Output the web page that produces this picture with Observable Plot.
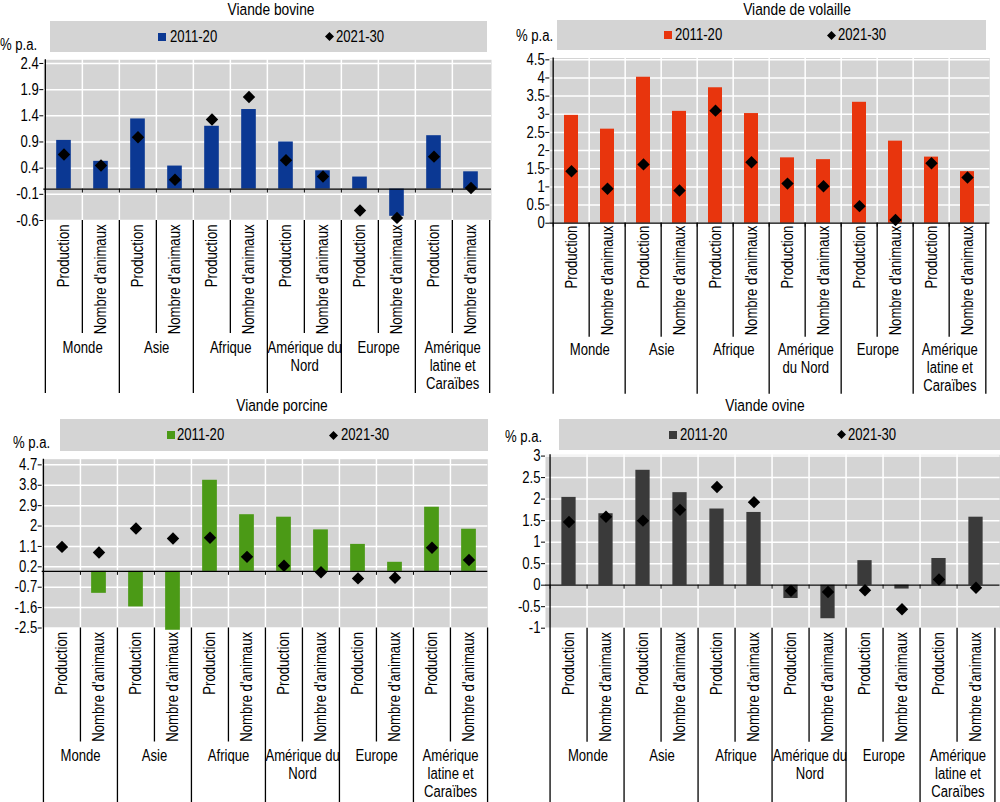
<!DOCTYPE html>
<html><head><meta charset="utf-8">
<script src="https://cdn.jsdelivr.net/npm/d3@7"></script>
<script src="https://cdn.jsdelivr.net/npm/@observablehq/plot@0.6"></script>
<style>
body{margin:0;background:#fff;}
#root{position:relative;width:1000px;height:802px;overflow:hidden;background:#fff;}
.abs{position:absolute;white-space:nowrap;color:#000;}
.plot{position:absolute;}
</style></head><body><div id="root"></div>
<script>
// ---------- DATA ----------
const groups = ["Monde","Asie","Afrique","Amérique du Nord","Europe","Amérique latine et Caraïbes"];
const measures = ["Production","Nombre d'animaux"];
const seriesNames = ["2011-20","2021-30"];
const panelTitles = ["Viande bovine","Viande de volaille","Viande porcine","Viande ovine"];
const unitLabel = "% p.a.";
const groupLabelsA = ["Monde","Asie","Afrique","Amérique du\nNord","Europe","Amérique\nlatine et\nCaraïbes"];
const groupLabelsB = ["Monde","Asie","Afrique","Amérique\ndu Nord","Europe","Amérique\nlatine et\nCaraïbes"];

const bovine2011 = [0.93,0.53,1.34,0.44,1.20,1.52,0.90,0.35,0.23,-0.52,1.02,0.33];
const bovine2021 = [0.66,0.45,0.99,0.18,1.33,1.76,0.55,0.24,-0.41,-0.55,0.62,0.02];
const poultry2011 = [2.97,2.59,4.02,3.08,3.73,3.02,1.80,1.75,3.33,2.26,1.82,1.42];
const poultry2021 = [1.43,0.95,1.62,0.90,3.10,1.68,1.09,1.02,0.47,0.09,1.65,1.26];
const pork2011 = [0,-0.97,-1.57,-2.6,4.02,2.50,2.39,1.83,1.19,0.40,2.83,1.86];
const pork2021 = [1.08,0.83,1.89,1.45,1.48,0.64,0.25,-0.04,-0.31,-0.28,1.04,0.50];
const sheep2011 = [2.04,1.66,2.67,2.15,1.77,1.69,-0.31,-0.78,0.57,-0.09,0.62,1.58];
const sheep2021 = [1.47,1.59,1.50,1.75,2.28,1.93,-0.13,-0.16,-0.12,-0.56,0.13,-0.06];

const bovineTicks = [-0.6,-0.1,0.4,0.9,1.4,1.9,2.4];
const poultryTicks = [0,0.5,1,1.5,2,2.5,3,3.5,4,4.5];
const porkTicks = [-2.5,-1.6,-0.7,0.2,1.1,2,2.9,3.8,4.7];
const sheepTicks = [-1,-0.5,0,0.5,1,1.5,2,2.5,3];

// ---------- FONTS ----------
function hasFont(name){
  const c=document.createElement("canvas").getContext("2d");
  const s="Nombre d'animaux 2011-20 Wwm";
  c.font="16px monospace"; const a=c.measureText(s).width;
  c.font=`16px '${name}', monospace`; const b=c.measureText(s).width;
  return Math.abs(a-b)>0.5;
}
const narrow = hasFont("Liberation Sans Narrow");
const FF = narrow ? "'Liberation Sans Narrow','Arial Narrow',sans-serif" : "'Liberation Sans',Arial,sans-serif";
const FS = 16;
const SX = narrow ? 1 : 0.82;   // horizontal condensation to mimic a narrow face

const root = document.getElementById("root");
function addText(txt, left, cy, opts={}){
  const d=document.createElement("div");
  d.className="abs";
  d.textContent=txt;
  const lh=opts.lh||20;
  const top = opts.top!=null ? opts.top : cy-lh/2;
  d.style.cssText+=`font-family:${FF};font-size:${opts.size||FS}px;line-height:${lh}px;top:${top}px;`;
  if(opts.center!=null){
    d.style.left=(opts.center-300)+"px"; d.style.width="600px"; d.style.textAlign="center";
    d.style.transform=`scaleX(${SX})`; d.style.transformOrigin="50% 50%";
  } else {
    d.style.left=left+"px";
    d.style.transform=`scaleX(${SX})`; d.style.transformOrigin="0 50%";
  }
  root.appendChild(d);
  return d;
}
function addBox(l,t,w,h,color){
  const d=document.createElement("div");
  d.className="abs";
  d.style.cssText+=`left:${l}px;top:${t}px;width:${w}px;height:${h}px;background:${color};`;
  root.appendChild(d);
}
function addDiamond(cx,cy,s){
  const d=document.createElementNS("http://www.w3.org/2000/svg","svg");
  d.setAttribute("width",s*2);d.setAttribute("height",s*2);
  d.style.cssText=`position:absolute;left:${cx-s}px;top:${cy-s}px;`;
  d.innerHTML=`<path d="M${s},0L${2*s},${s}L${s},${2*s}L0,${s}Z" fill="#000"/>`;
  root.appendChild(d);
}

function condense(svg){
  if (SX === 1) return;
  svg.querySelectorAll("text").forEach(t=>{
    let tr = t.getAttribute("transform") || "";
    const x = t.getAttribute("x"), y = t.getAttribute("y");
    if ((x && !isNaN(+x)) || (y && !isNaN(+y))) {
      tr = `translate(${+x||0},${+y||0}) ` + tr;
      t.removeAttribute("x"); t.removeAttribute("y");
    }
    t.setAttribute("transform", (tr + ` scale(${SX},1)`).trim());
  });
}

function panel(cfg){
  const keys = groups.flatMap(g=>measures.map(m=>g+"|"+m));
  const rows = keys.map((k,i)=>({key:k, group:groups[i>>1], measure:measures[i%2], v1:cfg.s1[i], v2:cfg.s2[i]}));
  const plotW = cfg.width - cfg.ml - cfg.mr;
  const plotH = cfg.height - cfg.mt - cfg.mb;
  const bw = plotW/keys.length;
  const firstKeys = keys.filter((k,i)=>i%2===0);
  const secondKeys = keys.filter((k,i)=>i%2===1);
  const last = keys[keys.length-1];
  const p = Plot.plot({
    width: cfg.width, height: cfg.height,
    marginLeft: cfg.ml, marginRight: cfg.mr, marginTop: cfg.mt, marginBottom: cfg.mb,
    x: {type:"band", domain: keys, padding: 0, axis: null},
    y: {domain: cfg.domain},
    style: {fontFamily: FF, fontSize: FS+"px", background: "transparent", overflow: "visible", color: "#000"},
    marks: [
      Plot.frame({fill:"#d4d4d4", stroke:null}),
      Plot.ruleY(cfg.ticks, {stroke:"#fff", strokeWidth:1.5}),
      Plot.ruleX(keys.slice(1), {x:d=>d, dx:-bw/2, stroke:"#fff", strokeWidth:1.5}),
      Plot.barY(rows, {x:"key", y:"v1", fill: cfg.color, insetLeft: bw*0.3, insetRight: bw*0.3}),
      Plot.ruleY([0], {stroke:"#000", strokeWidth:1.2}),
      Plot.ruleX(keys, {x:d=>d, dx:-bw/2, y1:()=>0, y2:()=>0, insetBottom:-4, stroke:"#000"}),
      Plot.dot(rows, {x:"key", y:"v2", symbol:"diamond2", r:5.6, fill:"#000", stroke:null}),
      Plot.ruleX([keys[0]], {x:d=>d, dx:-bw/2, stroke:"#000", strokeWidth:1.3, insetBottom:-cfg.longLen}),
      Plot.axisY({ticks: cfg.ticks, tickSize: 4, tickPadding: 1, fontSize: FS, tickFormat: d=>String(d), stroke:"#000"}),
      Plot.ruleX(secondKeys, {x:d=>d, dx:-bw/2, insetTop: plotH, insetBottom:-cfg.shortLen, stroke:"#000", strokeWidth:1.3}),
      Plot.ruleX(firstKeys.slice(1), {x:d=>d, dx:-bw/2, insetTop: plotH, insetBottom:-cfg.longLen, stroke:"#000", strokeWidth:1.3}),
      Plot.ruleX([last], {x:d=>d, dx:bw/2, insetTop: plotH, insetBottom:-cfg.longLen, stroke:"#000", strokeWidth:1.3}),
      Plot.text(rows, {x:"key", text:"measure", frameAnchor:"bottom", rotate:-90, textAnchor:"end", lineAnchor:"middle", dy: cfg.rotDy, fontSize: FS, fill:"#000"}),
      Plot.text(rows.filter((d,i)=>i%2===0), {x:"key", text:(d,i)=>cfg.glabels[i], dx: bw/2, frameAnchor:"bottom", lineAnchor:"top", lineHeight: 1.12, dy: cfg.gDy, fontSize: FS, fill:"#000"})
    ]
  });
  condense(p);
  p.classList.add("plot");
  p.style.left = cfg.left+"px";
  p.style.top = cfg.top+"px";
  root.appendChild(p);
}

const panels = [
  {title: panelTitles[0], titleX: 271, titleTop: 0, unitX: 0, unitY: 45,
   box:[50,21,437,31], sq:158, t1:170, dm:329, t2:336,
   left:0, top:56, width:500, height:344, ml:43.3, mr:9, mt:3.3, mb:180,
   domain:[-0.6,2.47], ticks:bovineTicks, s1:bovine2011, s2:bovine2021, color:"#0b3893",
   rotDy:4, shortLen:113, longLen:173, gDy:120, glabels:groupLabelsA},
  {title: panelTitles[1], titleX: 797, titleTop: 0, unitX: 516, unitY: 36,
   box:[557,20,429,30], sq:664, t1:675, dm:831, t2:838,
   left:500, top:56, width:500, height:344, ml:49.3, mr:10.7, mt:1.5, mb:177.3,
   domain:[0,4.55], ticks:poultryTicks, s1:poultry2011, s2:poultry2021, color:"#e8350d",
   rotDy:2.5, shortLen:114, longLen:171, gDy:119, glabels:groupLabelsB},
  {title: panelTitles[2], titleX: 282, titleTop: 396, unitX: 13, unitY: 443,
   box:[60,419,428,32], sq:167, t1:177, dm:333, t2:341,
   left:0, top:456, width:500, height:346, ml:41.7, mr:12.7, mt:2.7, mb:174.5,
   domain:[-2.5,4.95], ticks:porkTicks, s1:pork2011, s2:pork2021, color:"#4b9a16",
   rotDy:4, shortLen:114, longLen:176, gDy:120, glabels:groupLabelsA},
  {title: panelTitles[3], titleX: 765, titleTop: 396, unitX: 505, unitY: 437,
   box:[559,419,441,31], sq:669, t1:680, dm:841, t2:848,
   left:500, top:452, width:500, height:350, ml:45, mr:0.5, mt:2.3, mb:174.3,
   domain:[-1,3.03], ticks:sheepTicks, s1:sheep2011, s2:sheep2021, color:"#3a3a3a",
   rotDy:4, shortLen:114, longLen:176, gDy:120, glabels:groupLabelsA}
];

for (const c of panels){
  addText(c.title, 0, 0, {center: c.titleX, size: FS*1.05, lh: 19.6, top: c.titleTop});
  addBox(c.box[0], c.box[1], c.box[2], c.box[3], "#d4d4d4");
  const cy = c.box[1] + c.box[3]/2;
  addText(unitLabel, c.unitX, c.unitY);
  addBox(c.sq, cy-4, 8, 8, c.color);
  addText(seriesNames[0], c.t1, cy);
  addDiamond(c.dm, cy, 4.5);
  addText(seriesNames[1], c.t2, cy);
  panel(c);
}
</script></body></html>
